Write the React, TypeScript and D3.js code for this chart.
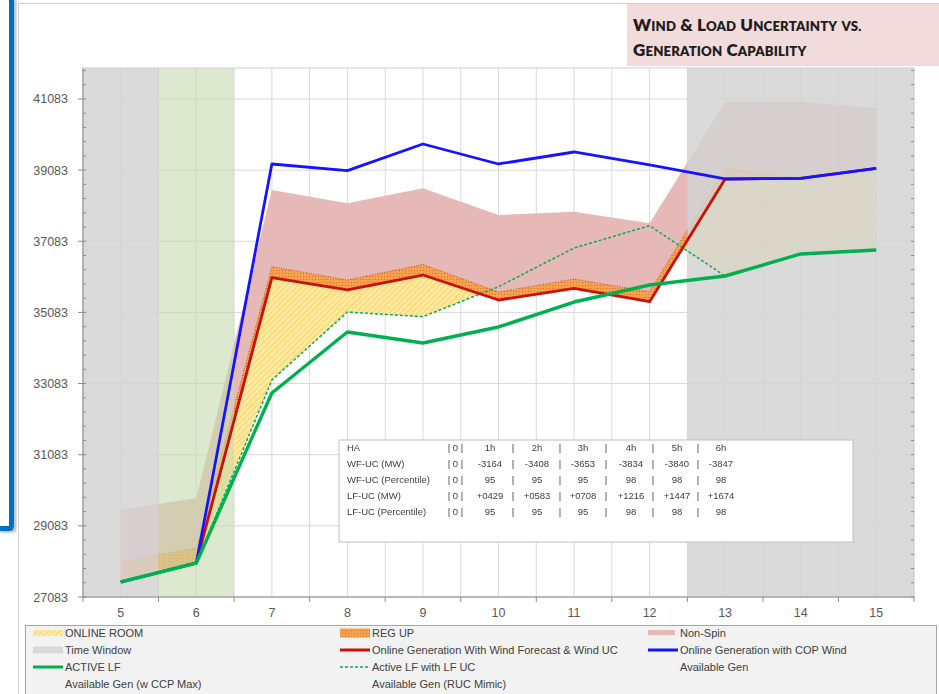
import React from 'react';
import * as d3 from 'd3';

// ---------- data ----------
const categories = [5, 6, 7, 8, 9, 10, 11, 12, 13, 14, 15];
const activeLF = [27505, 28039, 32818, 34532, 34223, 34673, 35375, 35853, 36106, 36725, 36837];
const activeLFwithUC: (number | null)[] = [27505, 28039, 33183, 35094, 34963, 35806, 36893, 37520, 36106, null, null];
const onlineGenWindUC = [27505, 28039, 36059, 35713, 36134, 35431, 35761, 35384, 38833, 38852, 39134];
const onlineGenCOP = [27505, 28039, 39255, 39067, 39817, 39255, 39592, 39227, 38833, 38852, 39134];
const regUpTop = [28068, 28461, 36368, 35994, 36433, 35656, 36022, 35665, 39133, 38852, 39134];
const nonSpinTop = [29529, 29866, 38524, 38149, 38571, 37821, 37914, 37587, 41007, 41007, 40830];
const yTicks = [27083, 29083, 31083, 33083, 35083, 37083, 39083, 41083];
const yDomain = [27083, 41953];
const timeWindowCats = [5, 13, 14, 15];
const studyWindowCats = [6];

const titleLine1 = 'Wind & Load Uncertainty vs.';
const titleLine2 = 'Generation Capability';

const tableLabels = ['HA', 'WF-UC (MW)', 'WF-UC (Percentile)', 'LF-UC (MW)', 'LF-UC (Percentile)'];
const tableZero = ['0', '0', '0', '0', '0'];
const tableHA = ['1h', '2h', '3h', '4h', '5h', '6h'];
const tableWFMW = ['-3164', '-3408', '-3653', '-3834', '-3840', '-3847'];
const tableWFPct = ['95', '95', '95', '98', '98', '98'];
const tableLFMW = ['+0429', '+0583', '+0708', '+1216', '+1447', '+1674'];
const tableLFPct = ['95', '95', '95', '98', '98', '98'];

const legendLabels = [
  'ONLINE ROOM', 'REG UP', 'Non-Spin',
  'Time Window', 'Online Generation With Wind Forecast & Wind UC', 'Online Generation with COP Wind',
  'ACTIVE LF', 'Active LF with LF UC', 'Available Gen',
  'Available Gen (w CCP Max)', 'Available Gen (RUC Mimic)',
];
const legendKinds = ['room', 'reg', 'nonspin', 'window', 'red', 'blue', 'green', 'greendash', 'none', 'none', 'none'];

// ---------- style ----------
const W = 939, H = 694;
const PL = 83, PR = 914, PT = 68, PB = 597;
const FONT = '"Liberation Sans", Arial, sans-serif';
const RED = '#cc1008';
const BLUE = '#1414ff';
const GREEN = '#00b050';

function SmallCaps({ text, x, y, big, small }: { text: string; x: number; y: number; big: number; small: number }) {
  const parts: { t: string; big: boolean }[] = [];
  for (const ch of text) {
    const b = ch === ' ' || ch === '&' || ch !== ch.toLowerCase();
    const t = ch.toUpperCase();
    const last = parts[parts.length - 1];
    if (last && last.big === b) last.t += t;
    else parts.push({ t, big: b });
  }
  return (
    <text x={x} y={y} fontFamily='Lato, "Open Sans", sans-serif' fontWeight={800} fill="#1e1e1e"
      letterSpacing={0.15} style={{ whiteSpace: 'pre' }}>
      {parts.map((p, i) => (
        <tspan key={i} fontSize={p.big ? big : small}>{p.t}</tspan>
      ))}
    </text>
  );
}

export default function App() {
  const x = d3.scaleBand<number>().domain(categories).range([PL, PR]).padding(0);
  const bw = x.bandwidth();
  const cx = (i: number) => (x(categories[i]) as number) + bw / 2;
  const y = d3.scaleLinear().domain(yDomain).range([PB, PT]);
  const idx = categories.map((_, i) => i);

  const nonSpinArea = d3.area<number>().x(cx).y0((i) => y(regUpTop[i])).y1((i) => y(nonSpinTop[i]))(idx) as string;
  const regUpArea = d3.area<number>().x(cx).y0((i) => y(onlineGenWindUC[i])).y1((i) => y(regUpTop[i]))(idx) as string;
  const roomArea = d3.area<number>().x(cx)
    .y0((i) => y((activeLFwithUC[i] ?? activeLF[i]) as number))
    .y1((i) => y(onlineGenWindUC[i]))(idx) as string;
  const belowRed = d3.area<number>().x(cx).y0(PB).y1((i) => y(onlineGenWindUC[i]))(idx) as string;
  const regUpEdge = d3.line<number>().x(cx).y((i) => y(regUpTop[i]))(idx) as string;

  const lineOf = (arr: (number | null)[]) =>
    d3.line<number>().defined((i) => arr[i] != null).x(cx).y((i) => y(arr[i] as number))(idx) as string;

  const minorTicks = d3.range(yDomain[0], yDomain[1], 400);
  const vGrid: number[] = [];
  categories.forEach((c) => { vGrid.push(x(c) as number); vGrid.push((x(c) as number) + bw / 2); });
  vGrid.push(PR);

  // table geometry
  const tX = 339, tY = 440, tW = 514, tH = 102;
  const sepX = [449, 462, 513, 560, 606, 653, 698];
  const cellX = [490, 537, 583, 631, 677, 721];
  const rowY = (r: number) => 451 + r * 16;
  const tableRows = [tableHA, tableWFMW, tableWFPct, tableLFMW, tableLFPct];

  // legend geometry
  const lgSw = [33, 340, 648];
  const lgTx = [65, 372, 680];
  const lgRow = [633, 650, 667, 684];

  const swatch = (kind: string, x0: number, cy: number) => {
    const w = 30;
    switch (kind) {
      case 'room': return <rect x={x0} y={cy - 3} width={w} height={6} fill="url(#roomHatch)" />;
      case 'reg': return <rect x={x0} y={cy - 4.5} width={w} height={9} fill="url(#regHatch)" />;
      case 'nonspin': return <rect x={x0} y={cy - 3} width={w - 3} height={5} fill="#e6b9b8" />;
      case 'window': return <rect x={x0} y={cy - 3.5} width={w} height={7} fill="#d9d9d9" />;
      case 'red': return <line x1={x0} x2={x0 + w} y1={cy} y2={cy} stroke={RED} strokeWidth={3} />;
      case 'blue': return <line x1={x0} x2={x0 + w} y1={cy} y2={cy} stroke={BLUE} strokeWidth={3} />;
      case 'green': return <line x1={x0} x2={x0 + w} y1={cy} y2={cy} stroke={GREEN} strokeWidth={3} />;
      case 'greendash': return <line x1={x0} x2={x0 + w} y1={cy} y2={cy} stroke={GREEN} strokeWidth={1.5} strokeDasharray="3 2" />;
      default: return null;
    }
  };

  return (
    <svg width={W} height={H} style={{ position: 'absolute', left: 0, top: 0, background: '#fff' }}>
      <defs>
        <pattern id="roomHatch" width="4" height="4" patternUnits="userSpaceOnUse" patternTransform="rotate(45)">
          <rect width="4" height="4" fill="#ffe9a6" />
          <line x1="0" y1="0" x2="0" y2="4" stroke="#ffcb3a" strokeWidth="1.4" />
        </pattern>
        <pattern id="regHatch" width="3" height="3" patternUnits="userSpaceOnUse">
          <rect width="3" height="3" fill="#f7a04f" />
          <rect width="1" height="1" fill="#d9731f" />
        </pattern>
        <clipPath id="belowRed"><path d={belowRed} /></clipPath>
        <filter id="blur1"><feGaussianBlur stdDeviation="1.2" /></filter>
      </defs>

      {/* outer frame */}
      <line x1={18} x2={W} y1={3.5} y2={3.5} stroke="#d0d0d0" />
      <line x1={18.5} x2={18.5} y1={3} y2={H} stroke="#d0d0d0" />

      {/* blue selection border */}
      <path d="M 0 531 H 12 Q 15 531 15 528 V 0" fill="none" stroke="#9a9a9a" strokeWidth={3} filter="url(#blur1)" opacity={0.7} />
      <path d="M 0 528.5 H 9 Q 11.5 528.5 11.5 526 V 0" fill="none" stroke="#0070c0" strokeWidth={5} />

      {/* title box */}
      <rect x={627} y={4} width={W - 627} height={62} fill="#f2dcdb" />
      <SmallCaps text={titleLine1} x={633} y={31} big={17} small={13.2} />
      <SmallCaps text={titleLine2} x={633} y={56} big={17} small={13.2} />

      {/* plot background & grid */}
      <rect x={PL} y={PT} width={PR - PL} height={PB - PT} fill="#fff" />
      {yTicks.slice(1).map((t) => (
        <line key={'hg' + t} x1={PL} x2={PR} y1={y(t)} y2={y(t)} stroke="#d9d9d9" />
      ))}
      {vGrid.map((v, i) => (
        <line key={'vg' + i} x1={v} x2={v} y1={PT} y2={PB} stroke="#d9d9d9" />
      ))}

      {/* bands */}
      <path d={nonSpinArea} fill="#e6b9b8" />
      <path d={regUpArea} fill="url(#regHatch)" />
      <path d={regUpEdge} fill="none" stroke="#a0522d" strokeWidth={1} strokeDasharray="1 1.5" />
      <path d={roomArea} fill="url(#roomHatch)" clipPath="url(#belowRed)" />

      {/* window overlays */}
      {timeWindowCats.map((c) => (
        <rect key={'tw' + c} x={x(c)} y={PT} width={bw} height={PB - PT} fill="#d3d3d3" opacity={0.84} />
      ))}
      {studyWindowCats.map((c) => (
        <rect key={'sw' + c} x={x(c)} y={PT} width={bw} height={PB - PT} fill="#c6dbae" opacity={0.6} />
      ))}

      {/* lines */}
      <path d={lineOf(activeLFwithUC)} fill="none" stroke={GREEN} strokeWidth={1.5} strokeDasharray="3 2" />
      <path d={lineOf(onlineGenWindUC)} fill="none" stroke={RED} strokeWidth={2.8} strokeLinejoin="round" />
      <path d={lineOf(onlineGenCOP)} fill="none" stroke={BLUE} strokeWidth={2.8} strokeLinejoin="round" />
      <path d={lineOf(activeLF)} fill="none" stroke={GREEN} strokeWidth={3.4} strokeLinejoin="round" />

      {/* plot border & axes */}
      <rect x={PL} y={PT} width={PR - PL} height={PB - PT} fill="none" stroke="#cfcfcf" />
      <line x1={PL} x2={PL} y1={PT} y2={PB} stroke="#8c8c8c" />
      <line x1={PL} x2={PR} y1={PB} y2={PB} stroke="#8c8c8c" />
      {minorTicks.map((t) => (
        <g key={'mt' + t}>
          <line x1={PL} x2={PL + 3} y1={y(t)} y2={y(t)} stroke="#8c8c8c" />
          <line x1={PR - 3} x2={PR} y1={y(t)} y2={y(t)} stroke="#8c8c8c" />
        </g>
      ))}
      {yTicks.map((t) => (
        <g key={'yt' + t}>
          <line x1={PL - 5} x2={PL} y1={y(t)} y2={y(t)} stroke="#8c8c8c" />
          <text x={68} y={y(t) + 4.5} textAnchor="end" fontFamily={FONT} fontSize={12.5} fill="#595959">{t}</text>
        </g>
      ))}
      {categories.map((c) => (
        <g key={'xt' + c}>
          <line x1={x(c)} x2={x(c)} y1={PB} y2={PB + 5} stroke="#8c8c8c" />
          <text x={(x(c) as number) + bw / 2} y={617} textAnchor="middle" fontFamily={FONT} fontSize={12.5} fill="#595959">{c}</text>
        </g>
      ))}
      <line x1={PR} x2={PR} y1={PB} y2={PB + 5} stroke="#8c8c8c" />

      {/* data table */}
      <rect x={tX} y={tY} width={tW} height={tH} fill="#fff" stroke="#bfbfbf" />
      <g opacity={0.999}>
        {tableLabels.map((lab, r) => (
          <g key={'tr' + r} fontFamily={FONT} fontSize={9.5} fill="#404040">
            <text x={347} y={rowY(r)}>{lab}</text>
            <text x={(sepX[0] + sepX[1]) / 2} y={rowY(r)} textAnchor="middle">{tableZero[r]}</text>
            {sepX.map((sx, k) => (
              <text key={k} x={sx} y={rowY(r)} textAnchor="middle">|</text>
            ))}
            {tableRows[r].map((v, k) => (
              <text key={'v' + k} x={cellX[k]} y={rowY(r)} textAnchor="middle">{v}</text>
            ))}
          </g>
        ))}
      </g>

      {/* legend */}
      <rect x={25.5} y={625.5} width={911} height={80} fill="#f2f2f2" stroke="#a6a6a6" />
      {legendLabels.map((lab, i) => {
        const col = i % 3, row = Math.floor(i / 3);
        const cy = lgRow[row];
        return (
          <g key={'lg' + i}>
            {swatch(legendKinds[i], lgSw[col], cy)}
            <text x={lgTx[col]} y={cy + 4} fontFamily={FONT} fontSize={11} fill="#404040">{lab}</text>
          </g>
        );
      })}
    </svg>
  );
}
